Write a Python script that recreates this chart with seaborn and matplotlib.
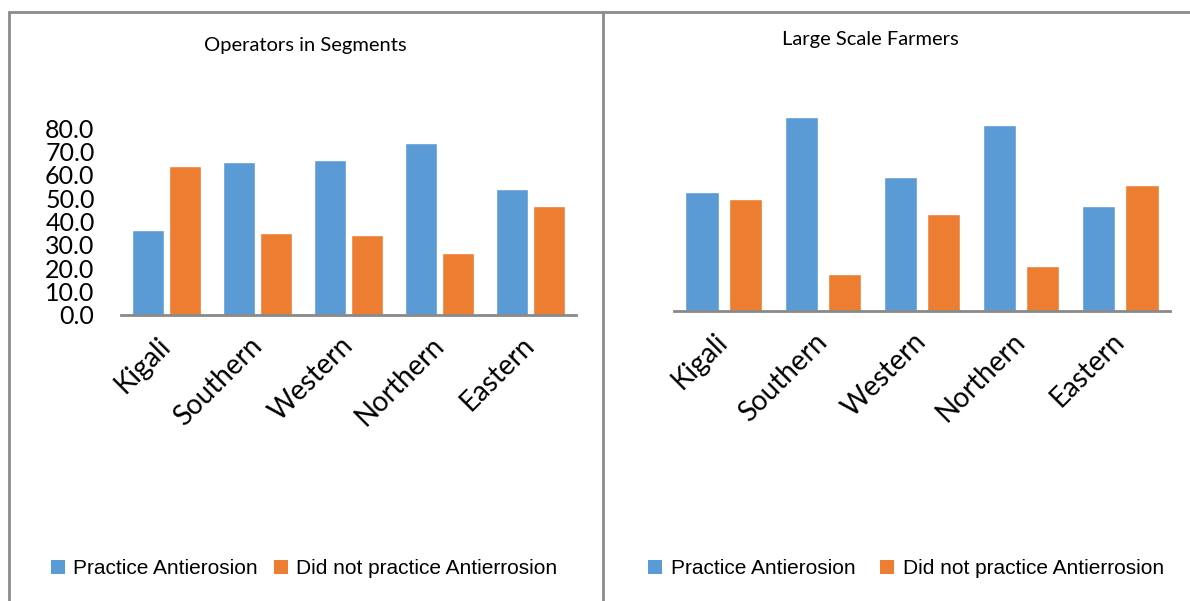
import matplotlib
matplotlib.use("Agg")
import matplotlib.pyplot as plt
from matplotlib.lines import Line2D
from matplotlib.patches import Patch
import seaborn as sns
import pandas as pd

regions = ["Kigali", "Southern", "Western", "Northern", "Eastern"]
series_names = ["Practice Antierosion", "Did not practice Antierrosion"]
operators_practice = [36.3, 65.4, 66.2, 73.6, 53.8]
operators_not = [63.7, 35.0, 34.2, 26.5, 46.5]
farmers_practice = [51.3, 83.9, 57.9, 80.4, 45.4]
farmers_not = [48.7, 16.1, 42.1, 19.6, 54.6]
yticks_left = [0, 10, 20, 30, 40, 50, 60, 70, 80]
titles = ["Operators in Segments", "Large Scale Farmers"]

colors = ["#5B9BD5", "#ED7D31"]

sns.set_theme(style="white")
plt.rcParams['font.family'] = ['Lato', 'DejaVu Sans']

def make_df(a, b):
    return pd.DataFrame({
        "Region": regions * 2,
        "Value": list(a) + list(b),
        "Series": [series_names[0]] * len(regions) + [series_names[1]] * len(regions),
    })

W, H = 1190, 601
fig = plt.figure(figsize=(W / 100, H / 100), dpi=100)

def fx(px):
    return px / W

def fy(py):
    return 1 - py / H

# axes positions (pixels)
ax1 = fig.add_axes([fx(121), fy(315), fx(576 - 121), (315 - 128) / H])
ax2 = fig.add_axes([fx(674), fy(311), fx(1170 - 674), (90 * 2.31) / H])

sns.barplot(data=make_df(operators_practice, operators_not), x="Region", y="Value",
            hue="Series", palette=colors, width=0.81, gap=0.14, ax=ax1,
            legend=False, errorbar=None, saturation=1)
sns.barplot(data=make_df(farmers_practice, farmers_not), x="Region", y="Value",
            hue="Series", palette=colors, width=0.87, gap=0.23, ax=ax2,
            legend=False, errorbar=None, saturation=1)

ax1.set_ylim(0, 80)
ax2.set_ylim(0, 90)

for ax in (ax1, ax2):
    ax.set_xlim(-0.5, 4.5)
    for s in ("top", "right", "left"):
        ax.spines[s].set_visible(False)
    ax.spines["bottom"].set_color("#898989")
    ax.spines["bottom"].set_linewidth(2)
    ax.set_xlabel("")
    ax.set_ylabel("")
    ax.tick_params(axis="x", length=0, pad=19)
    ax.set_xticks(range(len(regions)))
    ax.set_xticklabels(regions, rotation=45, ha="right", va="center",
                       rotation_mode="anchor", fontsize=20, color="#000000")
    ax.grid(False)

ax1.set_yticks(yticks_left)
ax1.set_yticklabels([f"{v:.1f}" for v in yticks_left], fontsize=18, color="#000000")
ax1.tick_params(axis="y", length=0, pad=19)
ax2.set_yticks([])

# titles
fig.text(fx(305), fy(45), titles[0], ha="center", va="center", fontsize=14.5, color="#000000")
fig.text(fx(870), fy(40), titles[1], ha="center", va="center", fontsize=14.5, color="#000000")

# legends
handles = [Patch(facecolor=c, edgecolor="none") for c in colors]
for cx, colsp in ((304, 0.75), (906, 1.2)):
    leg = fig.legend(handles, series_names, loc="center", ncol=2,
                     bbox_to_anchor=(fx(cx), fy(569)), bbox_transform=fig.transFigure,
                     frameon=False, handlelength=0.67, handleheight=0.67,
                     handletextpad=0.4, columnspacing=colsp,
                     prop={"family": ["Liberation Sans", "DejaVu Sans"], "size": 15})
    for t in leg.get_texts():
        t.set_color("#000000")

# outer border lines
border = "#8c8c8c"
fig.add_artist(Line2D([fx(9), 1], [fy(12), fy(12)], color=border, lw=2, transform=fig.transFigure))
fig.add_artist(Line2D([fx(9), fx(9)], [fy(12), 0], color=border, lw=2, transform=fig.transFigure))
fig.add_artist(Line2D([fx(603), fx(603)], [fy(12), 0], color=border, lw=2, transform=fig.transFigure))

fig.savefig("out.png", dpi=100)
